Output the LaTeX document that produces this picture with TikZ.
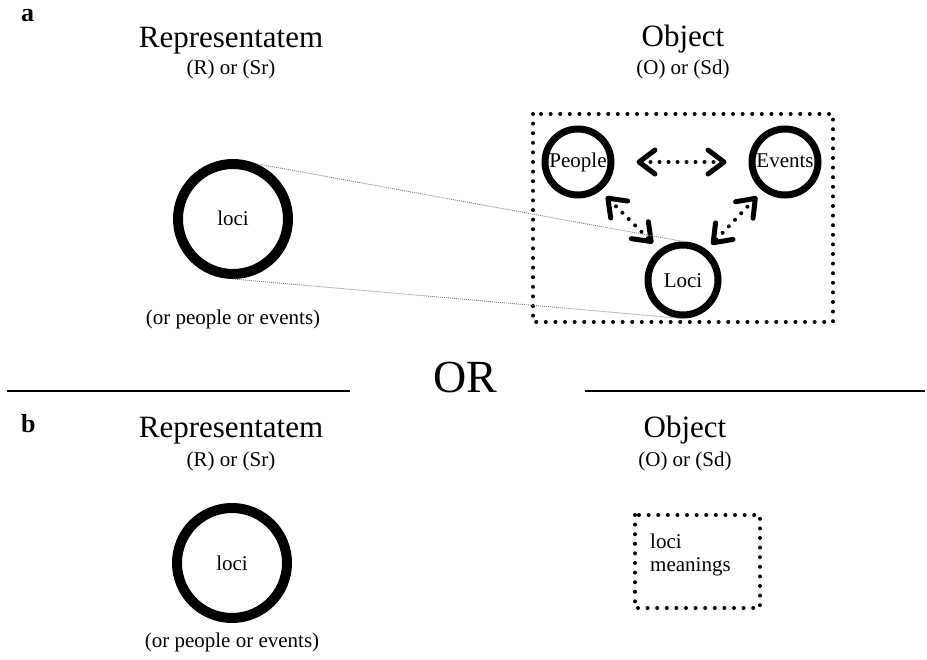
\documentclass[tikz,border=0pt]{standalone}
\usepackage{fontspec}
\setmainfont{Liberation Serif}
\usetikzlibrary{arrows.meta}
\tikzset{
  big/.style={font=\fontsize{31}{35}\selectfont, anchor=base, inner sep=0pt},
  small/.style={font=\fontsize{21}{24}\selectfont, anchor=base, inner sep=0pt},
  panel/.style={font=\fontsize{26}{30}\selectfont\bfseries, anchor=base west, inner sep=0pt},
  bigring/.style={circle, draw, line width=10pt, minimum size=110pt, inner sep=0pt},
  ring/.style={circle, draw, line width=7pt, minimum size=66pt, inner sep=0pt},
  dotbox/.style={line width=4pt, line cap=round, dash pattern=on 0pt off 9.6pt},
  chev/.tip={Straight Barb[length=16pt,width=24pt,line width=5pt,round]},
  dotarrow/.style={line width=4pt, line cap=round, dash pattern=on 0pt off 9pt, chev-chev},
  grayline/.style={gray, line width=0.9pt, dash pattern=on 1pt off 1pt},
  rule/.style={line width=1.4pt}
}
\begin{document}
\begin{tikzpicture}[x=1pt,y=-1pt]
\useasboundingbox (0,0) rectangle (927,660);
% ---------- panel a ----------
\node[panel] (pa) at (21,22) {a};
\node[big] (ra) at (231,48) {Representatem};
\node[small] (rsa) at (231,75) {(R) or (Sr)};
\node[big] (oa) at (683,47) {Object};
\node[small] (osa) at (683,75) {(O) or (Sd)};

\node[bigring] (lc) at (233,219) {};
\node[small] (lct) at (233,226) {loci};
\node[small] (ora) at (233,325) {(or people or events)};

\draw[dotbox] (533,114) rectangle (833,322);

\node[ring] (pe) at (578,162) {};
\node[ring] (ev) at (785,162) {};
\node[ring, minimum size=70pt] (lo) at (683,280) {};
\node[small] (pet) at (578,168) {People};
\node[small] (evt) at (785,168) {Events};
\node[small] (lot) at (683,288) {Loci};

\draw[dotarrow, shorten <=22pt, shorten >=22pt] (pe.east) -- (ev.west);
\draw[dotarrow, shorten <=8pt, shorten >=9pt] (pe.-52) -- (lo.128);
\draw[dotarrow, shorten <=8pt, shorten >=7pt] (ev.-128) -- (lo.52);

\draw[grayline] (lc.67) -- (lo.north);
\draw[grayline] (lc.south) -- (lo.south);

% ---------- divider ----------
\node[font=\fontsize{46}{50}\selectfont, anchor=base, inner sep=0pt] (or) at (465,392) {OR};
\coordinate (l1) at (7,391);
\coordinate (l2) at (350,391);
\coordinate (r1) at (585,391);
\coordinate (r2) at (925,391);
\draw[rule] (l1) -- (l2);
\draw[rule] (r1) -- (r2);

% ---------- panel b ----------
\node[panel] (pb) at (21,432) {b};
\node[big] (rb) at (231,438) {Representatem};
\node[small] (rsb) at (231,466) {(R) or (Sr)};
\node[big] (ob) at (685,438) {Object};
\node[small] (osb) at (685,466) {(O) or (Sd)};

\node[bigring] (lb) at (232,563) {};
\node[small] (lbt) at (232,570) {loci};
\node[small] (orb) at (232,647) {(or people or events)};

\draw[dotbox] (635,515) rectangle (760,608);
\node[small, anchor=base west] (m1) at (650,548) {loci};
\node[small, anchor=base west] (m2) at (650,571) {meanings};
\end{tikzpicture}
\end{document}
